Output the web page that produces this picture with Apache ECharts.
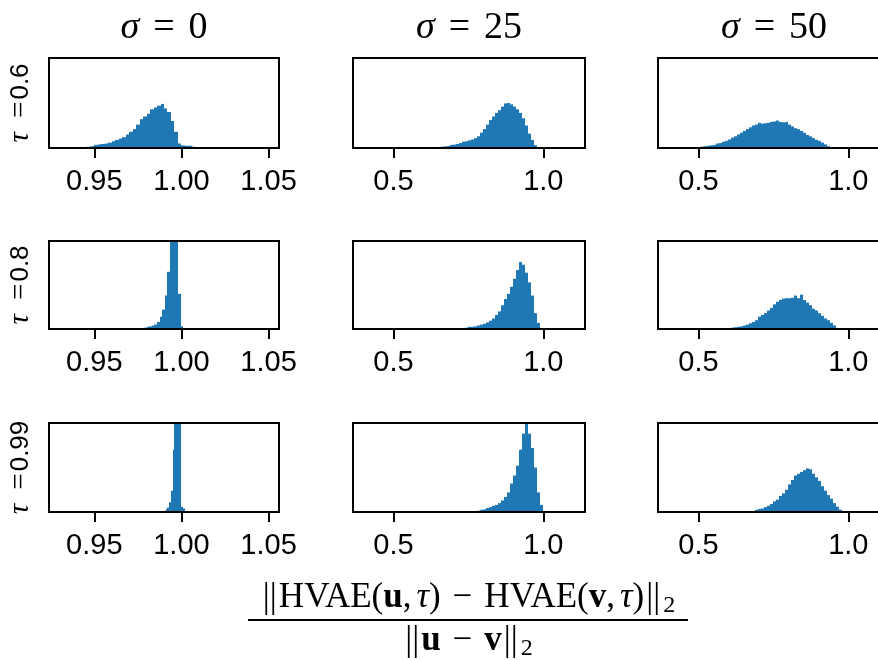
<!DOCTYPE html>
<html>
<head>
<meta charset="utf-8">
<script src="https://cdn.jsdelivr.net/npm/echarts@6/dist/echarts.min.js"></script>
<style>html,body{margin:0;padding:0;background:#fff}#c{width:878px;height:660px}</style>
</head>
<body>
<div id="c"></div>
<script>
// ---- labels ----
const sigmaLabels = ['0', '25', '50'];
const tauLabels = ['0.6', '0.8', '0.99'];
const xTicksCol1 = [0.95, 1.00, 1.05];
const xTicksCol23 = [0.5, 1.0];
const xRangeCol1 = [0.924, 1.056];
const xRangeCol23 = [0.365, 1.139];
const yMax = 100;

// ---- histograms (bin start, bin width, counts) ----
const start_r1c1 = 0.938, width_r1c1 = 0.002;
const counts_r1c1 = [1,1,1,1,1.5,2,3.5,4,4.5,5,6,7.5,9,10.5,12,15,18,21,26,32,35,38,43,45,47,49,44,40,30,18,5,3,2.5,2.5,1.5,1,0.5];
const start_r2c1 = 0.977, width_r2c1 = 0.0015;
const counts_r2c1 = [1,1.5,2.5,3,4,5,8,14,22,38,65,130,200,150,40,3,1];
const start_r3c1 = 0.989, width_r3c1 = 0.001;
const counts_r3c1 = [0.5,1.5,3,5,11,24,70,180,250,250,200,6,4];

const start_r1c2 = 0.62, width_r1c2 = 0.01;
const counts_r1c2 = [0.7,0.7,1,1.2,1.5,1.8,2.2,3.5,3.8,4.5,5.5,7,7.5,8.5,9.5,11,13,17,21,26,31,35,39,42,46,49.5,50,48.5,46,43,39,33,25,16,9,3];
const start_r2c2 = 0.71, width_r2c2 = 0.01;
const counts_r2c2 = [0.7,0.7,1,1.5,2.5,2.5,3,4,5,6,7.5,9.5,12,16,20,27,34,40,48,57,67,76,73,64,53,38,18,7];
const start_r3c2 = 0.76, width_r3c2 = 0.01;
const counts_r3c2 = [0.7,1,1.5,2.5,3,4.5,5.5,7,8,10,13,17,22,32,41,52,70,88,99,88,72,50,22,8];

const start_r1c3 = 0.51, width_r1c3 = 0.01;
const counts_r1c3 = [1.5,2,2.5,3,3.5,5,5.5,7,8,9.5,11.5,13,15,17,19,21,23,25,26,28,27,27.5,28,29,29.5,30.5,29,28.5,29,26,24,22,21,19,17,14.5,13,11,9,8,6,4,2];
const start_r2c3 = 0.60, width_r2c3 = 0.01;
const counts_r2c3 = [1,1.5,2,2.5,3,4,5,6.5,8,10,14,16,18,21,24,28,31,33,34.5,35,35,35.5,38,35,39,33,30,27,23,21,18,15,12,10,7,4,1];
const start_r3c3 = 0.68, width_r3c3 = 0.01;
const counts_r3c3 = [0.8,2.5,3.5,4,5.5,7,9,12,14,18,21,25,31,36,41,43,45,47,49,48,43,39,35,29,24,19,15,10,6,2.5];

const panels = [
  [[start_r1c1, width_r1c1, counts_r1c1], [start_r1c2, width_r1c2, counts_r1c2], [start_r1c3, width_r1c3, counts_r1c3]],
  [[start_r2c1, width_r2c1, counts_r2c1], [start_r2c2, width_r2c2, counts_r2c2], [start_r2c3, width_r2c3, counts_r2c3]],
  [[start_r3c1, width_r3c1, counts_r3c1], [start_r3c2, width_r3c2, counts_r3c2], [start_r3c3, width_r3c3, counts_r3c3]]
];

// ---- layout ----
const colLeft = [49, 353, 658];
const colWidth = [230, 232, 232];
const rowTop = [58, 241, 423];
const rowHeight = [90, 88, 89];

const chart = echarts.init(document.getElementById('c'), null, {renderer: 'canvas'});

function renderBin(params, api) {
  const a = api.coord([api.value(0), 0]);
  const b = api.coord([api.value(1), api.value(2)]);
  const cs = params.coordSys;
  const x0 = Math.round(a[0]), x1 = Math.round(b[0]);
  const r = echarts.graphic.clipRectByRect(
    {x: x0, y: b[1], width: x1 - x0, height: a[1] - b[1]},
    {x: cs.x, y: cs.y, width: cs.width, height: cs.height});
  if (!r || r.width <= 0) return null;
  return {type: 'rect', shape: r, style: {fill: '#1f77b4'}};
}

const grid = [], xAxis = [], yAxis = [], series = [];
for (let r = 0; r < 3; r++) {
  for (let c = 0; c < 3; c++) {
    const idx = grid.length;
    grid.push({left: colLeft[c], top: rowTop[r], width: colWidth[c], height: rowHeight[r],
      outerBoundsMode: 'none', containLabel: false,
      show: true, borderColor: '#000', borderWidth: 2, backgroundColor: 'transparent', z: 5});
    const ticks = c === 0 ? xTicksCol1 : xTicksCol23;
    const range = c === 0 ? xRangeCol1 : xRangeCol23;
    const dec = c === 0 ? 2 : 1;
    xAxis.push({type: 'value', gridIndex: idx, min: range[0], max: range[1],
      axisLine: {show: false}, splitLine: {show: false},
      axisTick: {show: true, length: 10, lineStyle: {color: '#000', width: 2}, customValues: ticks},
      axisLabel: {show: true, customValues: ticks, formatter: v => v.toFixed(dec),
        fontSize: 29, fontFamily: 'Liberation Sans', color: '#000', margin: 19}});
    const y = {type: 'value', gridIndex: idx, min: 0, max: yMax,
      axisLine: {show: false}, axisTick: {show: false}, axisLabel: {show: false}, splitLine: {show: false}};
    if (c === 0) {
      y.name = '{t|τ}{e| =}{n|' + tauLabels[r] + '}';
      y.nameLocation = 'middle';
      y.nameRotate = 90;
      y.nameGap = 14;
      y.nameTextStyle = {color: '#000', rich: {
        t: {fontFamily: 'Liberation Serif', fontStyle: 'italic', fontSize: 29, color: '#000', padding: [0, 7, 0, 0]},
        e: {fontFamily: 'Liberation Serif', fontSize: 29, color: '#000', padding: [0, 2, 0, 0]},
        n: {fontFamily: 'Liberation Sans', fontSize: 26, color: '#000'}
      }};
    }
    yAxis.push(y);
    const [s, w, counts] = panels[r][c];
    const data = counts.map((v, i) => [s + i * w, s + (i + 1) * w, v]);
    series.push({type: 'custom', xAxisIndex: idx, yAxisIndex: idx, renderItem: renderBin,
      encode: {x: [0, 1], y: 2}, data: data, clip: true, animation: false, silent: true});
  }
}

const titleRich = {
  s: {fontFamily: 'Liberation Serif', fontStyle: 'italic', fontSize: 38, fill: '#000'},
  e: {fontFamily: 'Liberation Serif', fontSize: 38, fill: '#000', padding: [0, 14]},
  n: {fontFamily: 'Liberation Serif', fontSize: 38, fill: '#000'}
};
const graphic = sigmaLabels.map((s, c) => ({
  type: 'text', x: colLeft[c] + colWidth[c] / 2, y: 28,
  style: {text: '{s|σ}{e|=}{n|' + s + '}', rich: titleRich, align: 'center', verticalAlign: 'middle'}
}));

const fracRich = {
  n: {fontFamily: 'Liberation Serif', fontSize: 35, fill: '#000'},
  bar: {fontFamily: 'Liberation Serif', fontSize: 35, fill: '#000', padding: [0, 2]},
  b: {fontFamily: 'Liberation Serif', fontWeight: 'bold', fontSize: 35, fill: '#000'},
  i: {fontFamily: 'Liberation Serif', fontStyle: 'italic', fontSize: 35, fill: '#000', padding: [0, 0, 0, 5]},
  m: {fontFamily: 'Liberation Serif', fontSize: 35, fill: '#000', padding: [0, 12]},
  sub: {fontFamily: 'Liberation Serif', fontSize: 24, fill: '#000', padding: [16, 0, 0, 1]}
};
const fracCenter = 468;
graphic.push({type: 'text', x: fracCenter, y: 598,
  style: {text: '{bar|||}{n|HVAE(}{b|u}{n|,}{i|τ}{n|)}{m|−}{n|HVAE(}{b|v}{n|,}{i|τ}{n|)}{bar|||}{sub|2}', rich: fracRich, align: 'center', verticalAlign: 'middle'}});
graphic.push({type: 'line', shape: {x1: fracCenter - 220, y1: 620, x2: fracCenter + 220, y2: 620}, style: {stroke: '#000', lineWidth: 2}});
graphic.push({type: 'text', x: fracCenter, y: 641,
  style: {text: '{bar|||}{b|u}{m|−}{b|v}{bar|||}{sub|2}', rich: fracRich, align: 'center', verticalAlign: 'middle'}});

chart.setOption({animation: false, backgroundColor: '#fff', grid, xAxis, yAxis, series, graphic});
</script>
</body>
</html>
